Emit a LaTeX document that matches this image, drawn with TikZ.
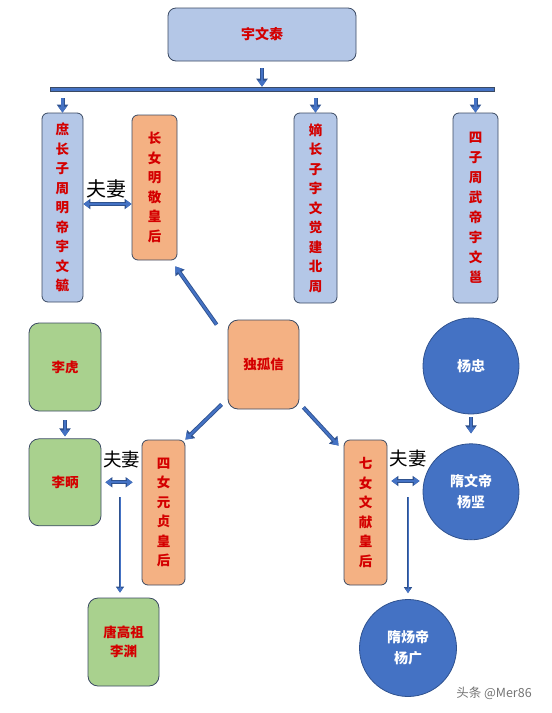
\documentclass[tikz,border=0pt]{standalone}
\usepackage{fontspec}
\newfontfamily\cjk{Noto Sans CJK SC}
\usetikzlibrary{arrows.meta, positioning, calc}
\definecolor{boxblue}{HTML}{B4C7E7}
\definecolor{boxorange}{HTML}{F4B183}
\definecolor{boxgreen}{HTML}{A9D18E}
\definecolor{circblue}{HTML}{4472C4}
\definecolor{circedge}{HTML}{2F528F}
\definecolor{edgegray}{HTML}{3B4A63}
\definecolor{namered}{HTML}{D40000}
\tikzset{
	sonbox/.style={rectangle, rounded corners=6pt, draw=edgegray,
		fill=boxblue, line width=0.8pt, inner sep=0pt, align=center,
		text=namered, font=\cjk\bfseries\fontsize{13.5}{19.5}\selectfont},
	daughterbox/.style={sonbox, fill=boxorange},
	libox/.style={sonbox, rounded corners=10pt, fill=boxgreen,
		minimum width=72pt, minimum height=88pt},
	yangnode/.style={circle, draw=circedge, fill=circblue, line width=0.8pt,
		minimum size=96pt, inner sep=0pt, align=center, text=white,
		font=\cjk\bfseries\fontsize{14}{21}\selectfont},
	myarrow/.style={preaction={draw=circedge, line width=4pt,
			-{Triangle[length=8pt,width=11pt]}},
		draw=circblue, line width=2.2pt, -{Triangle[length=6pt,width=8pt]}},
	thinarrow/.style={preaction={draw=circedge, line width=2.4pt,
			-{Triangle[length=6pt,width=8pt]}},
		draw=circblue, line width=1pt, -{Triangle[length=4.5pt,width=5.5pt]}},
	wedarrow/.style={preaction={draw=circedge, line width=4pt,
			{Triangle[length=7pt,width=10pt]}-{Triangle[length=7pt,width=10pt]}},
		draw=circblue, line width=2.2pt,
		{Triangle[length=5.5pt,width=7.5pt]}-{Triangle[length=5.5pt,width=7.5pt]}},
	wedlabel/.style={font=\cjk\fontsize{18.5}{18.5}\selectfont, inner sep=0pt}
}
\begin{document}
\begin{tikzpicture}[x=1pt, y=-1pt]
			\useasboundingbox (0,0) rectangle (552,713);

			\node[sonbox, minimum width=188pt, minimum height=53pt, rounded corners=8pt,
			font=\cjk\bfseries\fontsize{14}{16}\selectfont] (taizu) at (262,34.5) {宇文泰};
			\node[rectangle, draw=edgegray, fill=circblue, line width=0.6pt,
			minimum width=444pt, minimum height=4pt, inner sep=0pt] (bus) at (272,89) {};

			\node[sonbox, minimum width=41pt, minimum height=189pt] (mingdi) at (62.5,207.5)
			{庶\\长\\子\\周\\明\\帝\\宇\\文\\毓};
			\node[daughterbox, minimum width=45pt, minimum height=145pt] (jing) at (154.5,187.5)
			{长\\女\\明\\敬\\皇\\后};
			\node[sonbox, minimum width=43pt, minimum height=190pt] (jue) at (315.5,208)
			{嫡\\长\\子\\宇\\文\\觉\\建\\北\\周};
			\node[sonbox, minimum width=45pt, minimum height=190pt,
			font=\cjk\bfseries\fontsize{13.5}{20}\selectfont] (yong) at (475.5,208)
			{四\\子\\周\\武\\帝\\宇\\文\\邕};

			\node[daughterbox, minimum width=71pt, minimum height=89pt, rounded corners=10pt]
			(dugu) at (263.5,364.5) {独孤信};
			\node[libox] (hu) at (65,367) {李虎};
			\node[libox, below=27pt of hu, minimum height=87pt] (bing) {李昞};
			\node[daughterbox, minimum width=43pt, minimum height=145pt] (yuanzhen) at (163.5,512.5)
			{四\\女\\元\\贞\\皇\\后};
			\node[daughterbox, minimum width=43pt, minimum height=145pt] (wenxian) at (365.5,512.5)
			{七\\女\\文\\献\\皇\\后};
			\node[libox, minimum width=71pt] (yuan) at (123.5,642) {唐高祖\\李渊};

			\node[yangnode] (zhong) at (471,366) {杨忠};
			\node[yangnode, below=29pt of zhong] (jian) {隋文帝\\杨坚};
			\node[yangnode, minimum size=97pt] (guang) at (408,648) {隋炀帝\\杨广};

			\node[wedlabel, font=\cjk\fontsize{20}{20}\selectfont] (wed0) at (106.5,188.5) {夫妻};
			\node[wedlabel] (wed1) at (121.5,459.5) {夫妻};
			\node[wedlabel] (wed2) at (408,458.5) {夫妻};

			\node[font=\cjk\fontsize{12.5}{12.5}\selectfont, text=black!55, inner sep=0pt]
			(mark) at (494,693.5) {头条 @Mer86};

			\draw[myarrow, shorten <=7pt] (taizu.south) -- (taizu.south |- bus.north);
			\foreach \n in {mingdi, jue, yong}
				\draw[myarrow, shorten <=7pt] (bus.south -| \n.north) -- (\n.north);

			\draw[wedarrow] ([yshift=3.5pt]mingdi.east) -- ([yshift=3.5pt]mingdi.east -| jing.west);
			\draw[wedarrow, shorten <=4pt, shorten >=9pt] (bing.east) -- (bing.east -| yuanzhen.west);
			\draw[wedarrow, shorten <=4pt, shorten >=3pt] ([yshift=31.5pt]wenxian.east)
			-- ([yshift=31.5pt]wenxian.east -| jian.west);

			\draw[myarrow] ([xshift=-11pt,yshift=-5pt]dugu.north west) -- ([xshift=-2pt,yshift=-6pt]jing.south east);
			\draw[myarrow] ([xshift=-6pt,yshift=5pt]dugu.south west) -- (yuanzhen.north east);
			\draw[myarrow] ([xshift=4pt,yshift=2pt]dugu.south east) -- ([xshift=-5pt,yshift=-6pt]wenxian.north west);

			\draw[myarrow, shorten <=9pt, shorten >=2pt] (hu.south) -- (bing.north);
			\draw[myarrow, shorten <=3pt, shorten >=10pt] (zhong.south) -- (jian.north);

			\coordinate (kid1) at (120,497);
			\coordinate (kid2) at (408,497);
			\draw[thinarrow, shorten >=5pt] (kid1) -- (kid1 |- yuan.north);
			\draw[thinarrow, shorten >=6pt] (kid2) -- (kid2 |- guang.north);
\end{tikzpicture}
\end{document}
